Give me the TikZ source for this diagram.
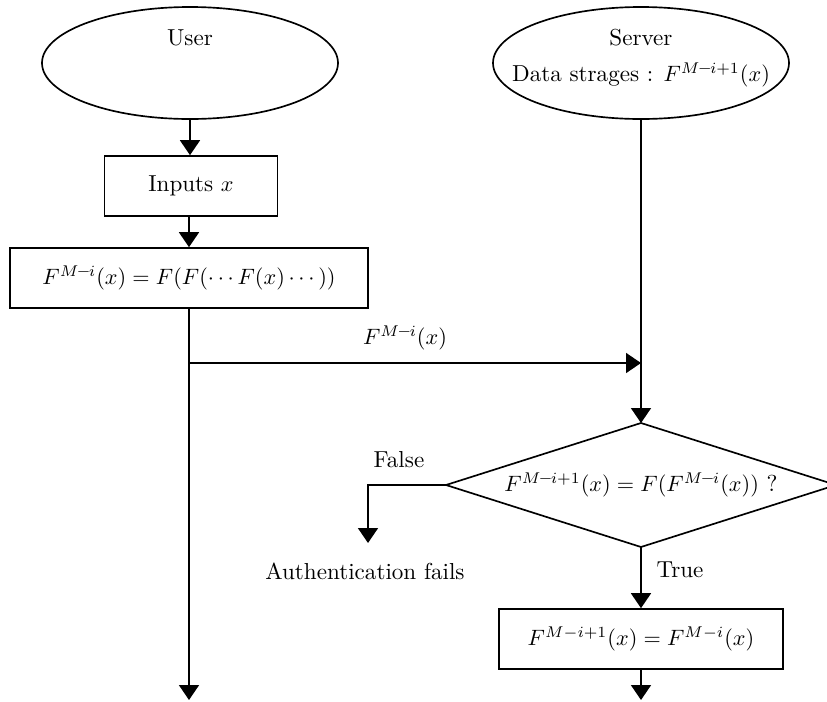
\documentclass[tikz,border=0pt]{standalone}
\usepackage{amsmath}
\usetikzlibrary{shapes.geometric,arrows.meta}
\newcommand{\hy}{\text{\bfseries\textendash}}
\begin{document}
\begin{tikzpicture}[x=0.45pt,y=-0.45pt,
  every node/.style={inner sep=0pt,font=\fontsize{10.4}{12}\selectfont},
  conn/.style={line width=0.75pt},
  arr/.style={conn,-{Triangle[length=6.75pt,width=9pt]}},
  ell/.style={draw,line width=0.75pt,ellipse,minimum width={296*0.45pt},minimum height={112*0.45pt}},
  box/.style={draw,line width=0.75pt,rectangle}]
\useasboundingbox (0,0) rectangle (827,702);
% ellipses
\node[ell] (user) at (190,63) {};
\node (usertxt) at (190,38) {User};
\node[ell] (server) at (641,63) {};
\node (servertxt) at (641,38) {Server};
\node (datatxt) at (641,75) {Data strages : $F^{M\hy i+1}(x)$};
% boxes
\node[box,minimum width={173*0.45pt},minimum height={60*0.45pt}] (inputs) at (191,186) {Inputs $x$};
\node[box,minimum width={358*0.45pt},minimum height={60*0.45pt}] (fbox) at (189,278) {$F^{M\hy i}(x)=F(F(\cdots F(x)\cdots))$};
\node[box,minimum width={284*0.45pt},minimum height={60*0.45pt}] (upd) at (641,639) {$F^{M-i+1}(x)=F^{M-i}(x)$};
% diamond
\coordinate (dt) at (641,423);
\coordinate (dr) at (836,485);
\coordinate (db) at (641,547);
\coordinate (dl) at (446,485);
\draw[conn] (dt) -- (dr) -- (db) -- (dl) -- cycle;
\node (dtxt) at (641,485) {$F^{M\hy i+1}(x)=F(F^{M\hy i}(x))$ ?};
% coordinates
\coordinate (lend) at (189,700);
\coordinate (split) at (189,363);
\coordinate (merge) at (641,363);
\coordinate (fcorner) at (368,485);
\coordinate (fend) at (368,543);
\coordinate (rend) at (641,700);
% connectors
\draw[arr] (user.south) -- (user.south |- inputs.north);
\draw[arr] (fbox.north |- inputs.south) -- (fbox.north);
\draw[arr] (fbox.south) -- (lend);
\draw[arr] (split) -- (merge);
\draw[arr] (server.south) -- (dt);
\draw[arr] (dl) -- (fcorner) -- (fend);
\draw[arr] (db) -- (upd.north);
\draw[arr] (upd.south) -- (rend);
% labels
\node (lblmsg) at (405,338) {$F^{M\hy i}(x)$};
\node (lblfalse) at (399,460) {False};
\node (lblfail) at (365,571) {Authentication fails};
\node (lbltrue) at (680,570) {True};
\end{tikzpicture}
\end{document}
